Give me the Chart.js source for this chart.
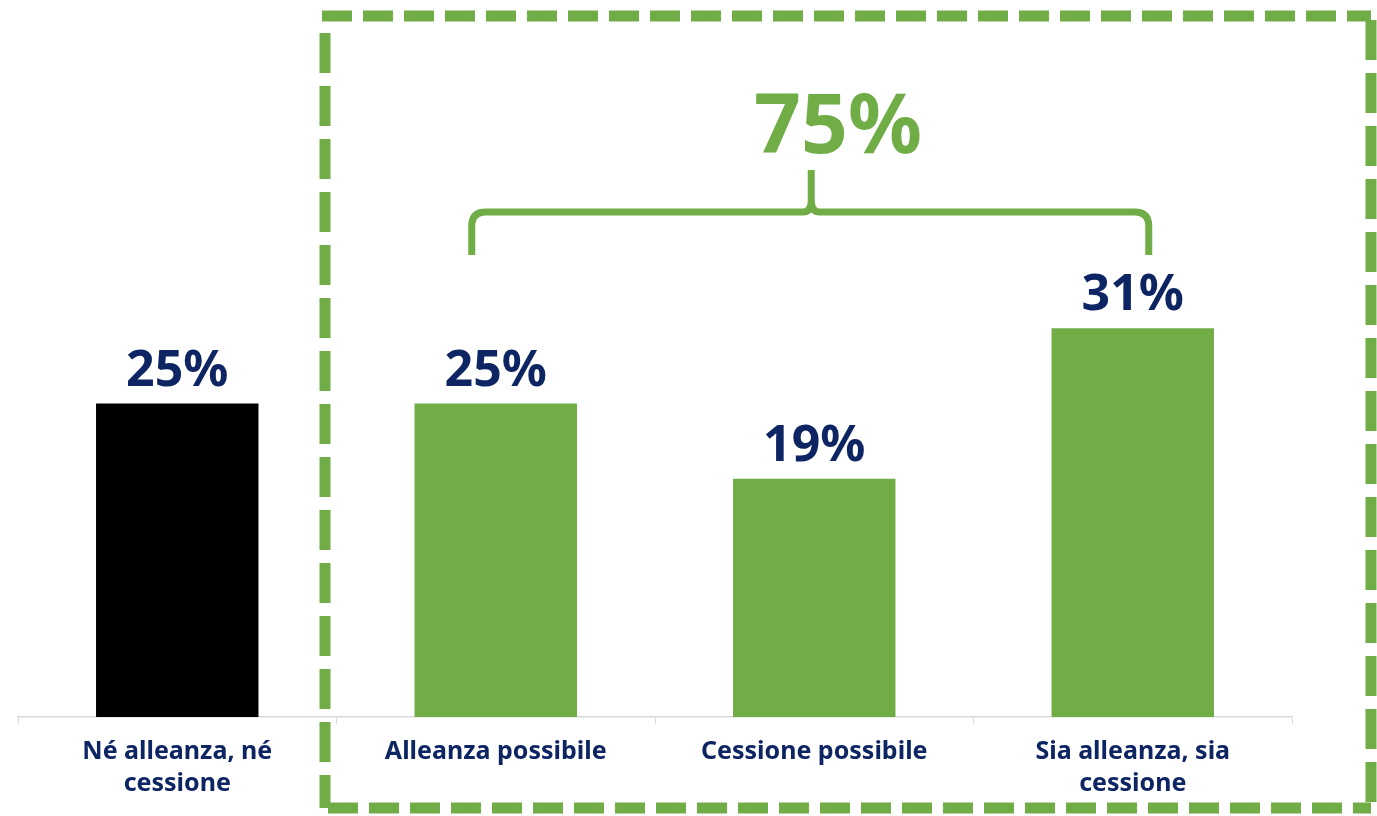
<!DOCTYPE html>
<html>
<head>
<meta charset="utf-8">
<script src="https://cdn.jsdelivr.net/npm/chart.js@4"></script>
<style>
  html, body { margin: 0; padding: 0; background: #fff; }
  #wrap { width: 1377px; height: 816px; }
</style>
</head>
<body>
<div id="wrap"><canvas id="chart"></canvas></div>
<script>
const categories = [
  ['Né alleanza, né', 'cessione'],
  'Alleanza possibile',
  'Cessione possibile',
  ['Sia alleanza, sia', 'cessione']
];
const shares = [25, 25, 19, 31];
const barColors = ['#000000', '#70ad47', '#70ad47', '#70ad47'];
const totalLabel = '75%';

const navy = '#0e2563';
const green = '#70ad47';
const font = '"Noto Sans", "DejaVu Sans", sans-serif';

// value labels above each bar
const valueLabels = {
  id: 'valueLabels',
  afterDatasetsDraw(chart) {
    const ctx = chart.ctx;
    const meta = chart.getDatasetMeta(0);
    ctx.save();
    ctx.fillStyle = navy;
    ctx.font = 'bold 50px ' + font;
    ctx.textAlign = 'center';
    ctx.textBaseline = 'alphabetic';
    meta.data.forEach((bar, i) => {
      ctx.fillText(shares[i] + '%', bar.x, bar.y - 18);
    });
    ctx.restore();
  }
};

// dashed frame, brace and total
const decorations = {
  id: 'decorations',
  afterDraw(chart) {
    const ctx = chart.ctx;
    const x = chart.scales.x;
    ctx.save();
    ctx.strokeStyle = green;

    // dashed box
    ctx.lineWidth = 11;
    ctx.setLineDash([30, 11]);
    ctx.beginPath();
    ctx.moveTo(322, 16);
    ctx.lineTo(1371, 16);
    ctx.stroke();
    ctx.beginPath();
    ctx.moveTo(328, 808);
    ctx.lineTo(1371, 808);
    ctx.stroke();
    ctx.setLineDash([40, 13]);
    ctx.beginPath();
    ctx.moveTo(325, 33);
    ctx.lineTo(325, 808);
    ctx.stroke();
    ctx.beginPath();
    ctx.moveTo(1371, 20);
    ctx.lineTo(1371, 808);
    ctx.stroke();

    // brace
    const left = x.getPixelForValue(1) - 24;
    const right = x.getPixelForValue(3) + 16;
    const mid = x.getPixelForValue(2) - 3;
    const yLine = 212, yEnd = 255, yTip = 170, r = 14;
    ctx.setLineDash([]);
    ctx.lineWidth = 7;
    ctx.lineCap = 'butt';
    ctx.beginPath();
    ctx.moveTo(left, yEnd);
    ctx.lineTo(left, yLine + r);
    ctx.quadraticCurveTo(left, yLine, left + r, yLine);
    ctx.lineTo(mid - 8, yLine);
    ctx.quadraticCurveTo(mid, yLine, mid, yLine - 12);
    ctx.lineTo(mid, yTip);
    ctx.moveTo(mid, yLine - 12);
    ctx.quadraticCurveTo(mid, yLine, mid + 8, yLine);
    ctx.lineTo(right - r, yLine);
    ctx.quadraticCurveTo(right, yLine, right, yLine + r);
    ctx.lineTo(right, yEnd);
    ctx.stroke();

    ctx.fillStyle = green;
    ctx.font = 'bold 82px ' + font;
    ctx.textAlign = 'center';
    ctx.textBaseline = 'alphabetic';
    ctx.fillText(totalLabel, 838, 153);
    ctx.restore();
  }
};

new Chart(document.getElementById('chart'), {
  type: 'bar',
  data: {
    labels: categories,
    datasets: [{
      data: shares,
      backgroundColor: barColors,
      borderWidth: 0,
      barPercentage: 0.51,
      categoryPercentage: 1
    }]
  },
  options: {
    responsive: true,
    maintainAspectRatio: false,
    animation: false,
    layout: { padding: { left: 18, right: 85, top: 90, bottom: 4 } },
    plugins: {
      legend: { display: false },
      tooltip: { enabled: false }
    },
    scales: {
      x: {
        grid: {
          display: true,
          drawOnChartArea: false,
          drawTicks: true,
          tickLength: 7,
          color: '#d9d9d9',
          offset: true
        },
        border: { display: true, color: '#d9d9d9', width: 1.5 },
        ticks: {
          color: navy,
          padding: 12,
          maxRotation: 0,
          font: { family: font, size: 25, weight: 'bold', lineHeight: 1.28 }
        }
      },
      y: {
        display: false,
        min: 0,
        max: 50
      }
    }
  },
  plugins: [valueLabels, decorations]
});
</script>
</body>
</html>
